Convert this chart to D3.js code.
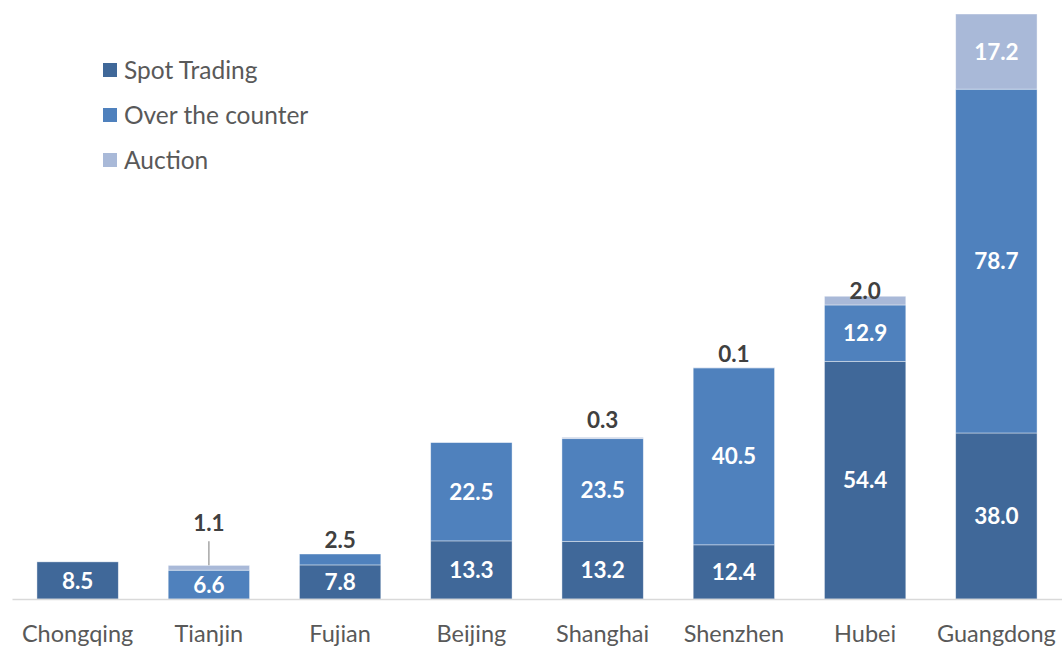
<!DOCTYPE html>
<html>
<head>
<meta charset="utf-8">
<script src="https://cdn.jsdelivr.net/npm/d3@7"></script>
<style>
  html, body { margin: 0; padding: 0; background: #fff; }
  svg { display: block; }
</style>
</head>
<body>
<svg id="chart" width="1062" height="647"></svg>
<script>
const categories = ["Chongqing", "Tianjin", "Fujian", "Beijing", "Shanghai", "Shenzhen", "Hubei", "Guangdong"];
const spotTrading = [8.5, 0, 7.8, 13.3, 13.2, 12.4, 54.4, 38.0];
const overTheCounter = [0, 6.6, 2.5, 22.5, 23.5, 40.5, 12.9, 78.7];
const auction = [0, 1.1, 0, 0, 0.3, 0.1, 2.0, 17.2];
const seriesNames = ["Spot Trading", "Over the counter", "Auction"];

const colors = ["#406899", "#4F81BD", "#A9B9D8"];
const FONT = "Lato, 'Open Sans', sans-serif";

const svg = d3.select("#chart");
const W = 1062, H = 647;
const margin = { left: 12, right: 0, top: 14, bottom: 48 };
const baseY = 599;

const x = d3.scaleBand().domain(categories).range([margin.left, W - margin.right]).paddingInner(0.38).paddingOuter(0.19);
const totals = categories.map((c, i) => spotTrading[i] + overTheCounter[i] + auction[i]);
const y = d3.scaleLinear().domain([0, d3.max(totals)]).range([baseY, margin.top]);

const table = categories.map((c, i) => ({ cat: c, s0: spotTrading[i], s1: overTheCounter[i], s2: auction[i] }));
const stack = d3.stack().keys(["s0", "s1", "s2"]);
const layers = stack(table);

// bars
const g = svg.append("g");
layers.forEach((layer, li) => {
  g.selectAll(null).data(layer.filter(d => d[1] - d[0] > 0)).enter().append("rect")
    .attr("x", d => x(d.data.cat))
    .attr("width", x.bandwidth())
    .attr("y", d => y(d[1]))
    .attr("height", d => y(d[0]) - y(d[1]))
    .attr("fill", colors[li])
    .attr("stroke", "#ffffff")
    .attr("stroke-opacity", 0.55)
    .attr("stroke-width", 0.75);
});

// axis baseline
const xAxis = d3.axisBottom(x).tickSize(0).tickPadding(26);
const ax = svg.append("g").attr("transform", `translate(0,${baseY})`).call(xAxis);
ax.select(".domain").attr("stroke", "#D9D9D9").attr("stroke-width", 1.5);
ax.selectAll("text").attr("font-family", FONT).attr("font-size", 23.5).attr("fill", "#595959");

// labels
const outsideGap = { "Tianjin": 42, "Fujian": 14, "Shanghai": 17, "Shenzhen": 14, "Hubei": 5 };
layers.forEach((layer, li) => {
  layer.forEach(d => {
    const v = d[1] - d[0];
    if (v <= 0) return;
    const cx = x(d.data.cat) + x.bandwidth() / 2;
    const h = y(d[0]) - y(d[1]);
    if (h >= 24) {
      svg.append("text")
        .attr("x", cx).attr("y", (y(d[0]) + y(d[1])) / 2)
        .attr("dy", "0.36em")
        .attr("text-anchor", "middle")
        .attr("font-family", FONT).attr("font-weight", 700).attr("font-size", 22.5)
        .attr("fill", "#ffffff")
        .text(v.toFixed(1));
    } else {
      const top = y(totals[categories.indexOf(d.data.cat)]);
      const gap = outsideGap[d.data.cat] || 14;
      const ly = top - gap;
      if (gap > 25) {
        svg.append("line")
          .attr("x1", cx).attr("x2", cx)
          .attr("y1", ly + 18).attr("y2", top)
          .attr("stroke", "#A6A6A6").attr("stroke-width", 1.5);
      }
      svg.append("text")
        .attr("x", cx).attr("y", ly)
        .attr("dy", "0.36em")
        .attr("text-anchor", "middle")
        .attr("font-family", FONT).attr("font-weight", 700).attr("font-size", 22.5)
        .attr("fill", "#404040")
        .text(v.toFixed(1));
    }
  });
});

// legend
const legend = svg.append("g").attr("transform", "translate(103,70)");
seriesNames.forEach((n, i) => {
  const row = legend.append("g").attr("transform", `translate(0,${i * 45})`);
  row.append("rect").attr("x", 0).attr("y", -7).attr("width", 14).attr("height", 14).attr("fill", colors[i]);
  row.append("text").attr("x", 21).attr("y", 0).attr("dy", "0.36em")
    .attr("font-family", FONT).attr("font-size", 24.5).attr("fill", "#595959").text(n);
});
</script>
</body>
</html>
